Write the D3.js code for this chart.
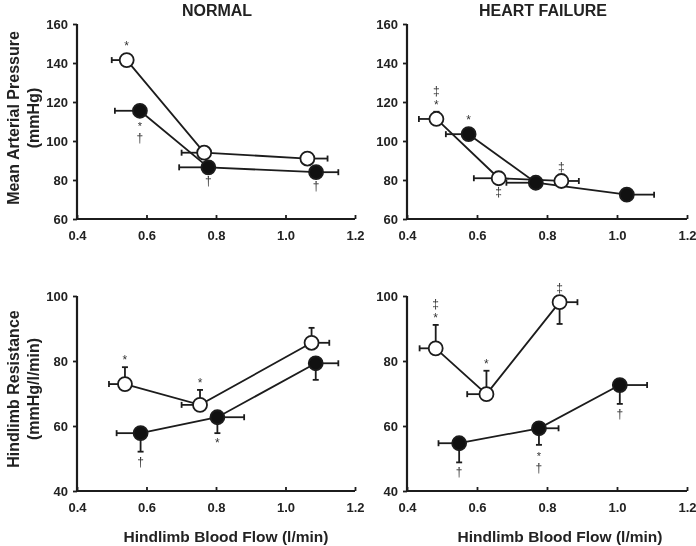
<!DOCTYPE html>
<html><head><meta charset="utf-8">
<script src="https://cdn.jsdelivr.net/npm/d3@7"></script>
<style>
html,body{margin:0;padding:0;background:#fff;}
svg{display:block;font-family:"Liberation Sans",Arial,sans-serif;will-change:transform;}
</style></head>
<body>
<svg id="c" width="696" height="546"></svg>
<script>
// ---------- data ----------
const columnTitles = ["NORMAL", "HEART FAILURE"];
const xTicks = [0.4, 0.6, 0.8, 1.0, 1.2];
const mapTicks = [60, 80, 100, 120, 140, 160];
const resTicks = [40, 60, 80, 100];

// Normal – mean arterial pressure
const nMapOpenFlow = [0.543, 0.766, 1.063];
const nMapOpenVal = [141.5, 94, 91];
const nMapOpenFlowErr = [0.500, 0.701, 1.121];
const nMapOpenValErr = [null, null, null];
const nMapOpenAbove = ["*", "", ""];
const nMapOpenBelow = ["", "", ""];
const nMapFillFlow = [0.581, 0.778, 1.088];
const nMapFillVal = [115.5, 86.5, 84];
const nMapFillFlowErr = [0.509, 0.694, 1.152];
const nMapFillValErr = [null, null, null];
const nMapFillAbove = ["", "", ""];
const nMapFillBelow = ["*\u2020", "\u2020", "\u2020"];

// Heart failure – mean arterial pressure
const hMapOpenFlow = [0.484, 0.662, 0.841];
const hMapOpenVal = [111.3, 80.9, 79.5];
const hMapOpenFlowErr = [0.434, 0.591, 0.891];
const hMapOpenValErr = [115, null, null];
const hMapOpenAbove = ["\u2021*", "", "\u2021"];
const hMapOpenBelow = ["", "\u2021", ""];
const hMapFillFlow = [0.576, 0.768, 1.028];
const hMapFillVal = [103.5, 78.6, 72.5];
const hMapFillFlowErr = [0.511, 0.684, 1.106];
const hMapFillValErr = [null, null, null];
const hMapFillAbove = ["*", "", ""];
const hMapFillBelow = ["", "", ""];

// Normal – hindlimb resistance
const nResOpenFlow = [0.538, 0.754, 1.075];
const nResOpenVal = [72.9, 66.5, 85.6];
const nResOpenFlowErr = [0.492, 0.701, 1.126];
const nResOpenValErr = [78.1, 71.1, 90.2];
const nResOpenAbove = ["*", "*", ""];
const nResOpenBelow = ["", "", ""];
const nResFillFlow = [0.583, 0.804, 1.087];
const nResFillVal = [57.8, 62.7, 79.3];
const nResFillFlowErr = [0.514, 0.881, 1.152];
const nResFillValErr = [52.1, 57.8, 74.2];
const nResFillAbove = ["", "", ""];
const nResFillBelow = ["\u2020", "*", ""];

// Heart failure – hindlimb resistance
const hResOpenFlow = [0.482, 0.627, 0.836];
const hResOpenVal = [83.9, 69.8, 98.1];
const hResOpenFlowErr = [0.436, 0.572, 0.887];
const hResOpenValErr = [91.1, 77.0, 91.4];
const hResOpenAbove = ["\u2021*", "*", "\u2021"];
const hResOpenBelow = ["", "", ""];
const hResFillFlow = [0.549, 0.777, 1.008];
const hResFillVal = [54.7, 59.3, 72.6];
const hResFillFlowErr = [0.490, 0.833, 1.086];
const hResFillValErr = [48.8, 54.2, 66.8];
const hResFillAbove = ["", "", ""];
const hResFillBelow = ["\u2020", "*\u2020", "\u2020"];

// ---------- build ----------
function series(flow, val, fe, ve, above, below, open) {
  return flow.map((x, i) => ({x, y: val[i], xe: fe[i], ye: ve[i], above: above[i], below: below[i], open}));
}
const INK = "#1c1c1c";
const colX = [[77, 355], [407, 687]];
const rowY = [[219, 24], [491, 296]];
const panels = [
  {col: 0, row: 0, dom: [60, 160], ticks: mapTicks,
   s: [series(nMapOpenFlow, nMapOpenVal, nMapOpenFlowErr, nMapOpenValErr, nMapOpenAbove, nMapOpenBelow, true),
       series(nMapFillFlow, nMapFillVal, nMapFillFlowErr, nMapFillValErr, nMapFillAbove, nMapFillBelow, false)]},
  {col: 1, row: 0, dom: [60, 160], ticks: mapTicks,
   s: [series(hMapOpenFlow, hMapOpenVal, hMapOpenFlowErr, hMapOpenValErr, hMapOpenAbove, hMapOpenBelow, true),
       series(hMapFillFlow, hMapFillVal, hMapFillFlowErr, hMapFillValErr, hMapFillAbove, hMapFillBelow, false)]},
  {col: 0, row: 1, dom: [40, 100], ticks: resTicks,
   s: [series(nResOpenFlow, nResOpenVal, nResOpenFlowErr, nResOpenValErr, nResOpenAbove, nResOpenBelow, true),
       series(nResFillFlow, nResFillVal, nResFillFlowErr, nResFillValErr, nResFillAbove, nResFillBelow, false)]},
  {col: 1, row: 1, dom: [40, 100], ticks: resTicks,
   s: [series(hResOpenFlow, hResOpenVal, hResOpenFlowErr, hResOpenValErr, hResOpenAbove, hResOpenBelow, true),
       series(hResFillFlow, hResFillVal, hResFillFlowErr, hResFillValErr, hResFillAbove, hResFillBelow, false)]}
];

const svg = d3.select("#c");
svg.append("rect").attr("width", 696).attr("height", 546).attr("fill", "#fff");

panels.forEach(p => {
  const x = d3.scaleLinear().domain([0.4, 1.2]).range(colX[p.col]);
  const y = d3.scaleLinear().domain(p.dom).range(rowY[p.row]);
  const g = svg.append("g");

  const xa = g.append("g").attr("transform", `translate(0,${y.range()[0]})`)
    .call(d3.axisBottom(x).tickValues(xTicks).tickFormat(d3.format(".1f")).tickSize(-4).tickPadding(9));
  const ya = g.append("g").attr("transform", `translate(${x.range()[0]},0)`)
    .call(d3.axisLeft(y).tickValues(p.ticks).tickSize(4).tickPadding(5));
  [xa, ya].forEach(a => {
    a.select(".domain").attr("stroke", INK).attr("stroke-width", 2.2);
    a.selectAll(".tick line").attr("stroke", INK).attr("stroke-width", 1.8);
    a.selectAll(".tick text").attr("fill", "#222").attr("font-size", 13).attr("font-weight", "bold");
  });
  ya.select(".domain").attr("d", `M0,${y.range()[0]}V${y.range()[1]}`);
  xa.select(".domain").attr("d", `M${x.range()[0]},0H${x.range()[1]}`);
  xa.selectAll(".tick text").attr("dy", "0.95em");

  const line = d3.line().x(d => x(d.x)).y(d => y(d.y));
  p.s.forEach(s => {
    g.append("path").attr("d", line(s)).attr("fill", "none").attr("stroke", INK).attr("stroke-width", 1.8);
  });
  p.s.forEach(s => {
    s.forEach(d => {
      if (d.xe != null) {
        g.append("line").attr("x1", x(d.x)).attr("x2", x(d.xe)).attr("y1", y(d.y)).attr("y2", y(d.y))
          .attr("stroke", INK).attr("stroke-width", 1.8);
        g.append("line").attr("x1", x(d.xe)).attr("x2", x(d.xe)).attr("y1", y(d.y) - 3).attr("y2", y(d.y) + 3)
          .attr("stroke", INK).attr("stroke-width", 1.8);
      }
      if (d.ye != null) {
        g.append("line").attr("x1", x(d.x)).attr("x2", x(d.x)).attr("y1", y(d.y)).attr("y2", y(d.ye))
          .attr("stroke", INK).attr("stroke-width", 1.8);
        g.append("line").attr("x1", x(d.x) - 3).attr("x2", x(d.x) + 3).attr("y1", y(d.ye)).attr("y2", y(d.ye))
          .attr("stroke", INK).attr("stroke-width", 1.8);
      }
    });
  });
  p.s.forEach(s => {
    s.forEach(d => {
      g.append("circle").attr("cx", x(d.x)).attr("cy", y(d.y)).attr("r", 7)
        .attr("fill", d.open ? "#fff" : "#111").attr("stroke", INK).attr("stroke-width", 1.8);
    });
  });
  // annotations
  p.s.forEach(s => {
    s.forEach(d => {
      const top = d.ye != null && d.ye > d.y ? Math.min(y(d.ye), y(d.y) - 7) : y(d.y) - 7;
      const capBelow = d.ye != null && d.ye < d.y && y(d.ye) > y(d.y) + 7;
      const base = capBelow ? y(d.ye) + 14 : y(d.y) + 18;
      const ab = Array.from(d.above);
      ab.forEach((c, i) => {
        g.append("text").attr("x", x(d.x)).attr("y", top - 3 - (ab.length - 1 - i) * 14)
          .attr("text-anchor", "middle").attr("font-size", 12).attr("fill", "#333").text(c);
      });
      const be = Array.from(d.below);
      be.forEach((c, i) => {
        const fy = be.length > 1 ? (i === 0 ? base + 1 : base + 13) : base;
        g.append("text").attr("x", x(d.x)).attr("y", fy)
          .attr("text-anchor", "middle").attr("font-size", i === 0 && be.length > 1 ? 11 : 12)
          .attr("fill", "#333").text(c);
      });
    });
  });
});

columnTitles.forEach((t, i) => {
  svg.append("text").attr("x", i === 0 ? 217 : 543).attr("y", 16).attr("text-anchor", "middle")
    .attr("font-size", 16).attr("font-weight", "bold").attr("fill", "#222").text(t);
});
[226, 560].forEach(cx => {
  svg.append("text").attr("x", cx).attr("y", 542).attr("text-anchor", "middle")
    .attr("font-size", 15.5).attr("font-weight", "bold").attr("fill", "#222").text("Hindlimb Blood Flow (l/min)");
});
function ylab(lines, cy) {
  lines.forEach((t, i) => {
    svg.append("text").attr("transform", `translate(${19 + i * 20},${cy}) rotate(-90)`)
      .attr("text-anchor", "middle").attr("font-size", 16).attr("font-weight", "bold").attr("fill", "#222").text(t);
  });
}
ylab(["Mean Arterial Pressure", "(mmHg)"], 118);
ylab(["Hindlimb Resistance", "(mmHg/l/min)"], 389);
</script>
</body></html>
